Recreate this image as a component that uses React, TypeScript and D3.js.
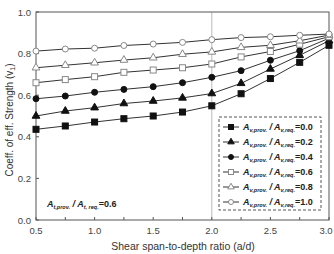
import React from 'react';
import * as d3 from 'd3';

const ratios = [0.5, 0.75, 1.0, 1.25, 1.5, 1.75, 2.0, 2.25, 2.5, 2.75, 3.0];

const seriesLabels = ['0.0', '0.2', '0.4', '0.6', '0.8', '1.0'];

const v00 = [0.436, 0.452, 0.471, 0.487, 0.5, 0.519, 0.549, 0.607, 0.68, 0.758, 0.84];
const v02 = [0.5, 0.524, 0.54, 0.56, 0.572, 0.587, 0.608, 0.657, 0.726, 0.792, 0.862];
const v04 = [0.583, 0.596, 0.614, 0.628, 0.641, 0.66, 0.686, 0.718, 0.768, 0.814, 0.874];
const v06 = [0.66, 0.675, 0.689, 0.71, 0.721, 0.732, 0.75, 0.784, 0.81, 0.845, 0.881];
const v08 = [0.732, 0.744, 0.756, 0.769, 0.78, 0.797, 0.808, 0.83, 0.84, 0.862, 0.889];
const v10 = [0.812, 0.822, 0.826, 0.839, 0.846, 0.854, 0.867, 0.877, 0.881, 0.888, 0.894];

const series = [v00, v02, v04, v06, v08, v10];

const yTicks = [0.0, 0.2, 0.4, 0.6, 0.8, 1.0];
const xTicks = [0.5, 1.0, 1.5, 2.0, 2.5, 3.0];
const xMinor = [0.75, 1.25, 1.75, 2.25, 2.75];

// marker kind per series: shape + filled/open
const markers = [
  { shape: 'square', filled: true },
  { shape: 'triangle', filled: true },
  { shape: 'circle', filled: true },
  { shape: 'square', filled: false },
  { shape: 'triangle', filled: false },
  { shape: 'circle', filled: false },
];

const W = 334;
const H = 254;
const FONT = 'Liberation Sans, Arial, sans-serif';

function Marker({ x, y, shape, filled, r = 3 }) {
  const fill = filled ? '#111' : '#fff';
  const stroke = filled ? '#111' : '#888';
  if (shape === 'square') {
    return <rect x={x - r} y={y - r} width={2 * r} height={2 * r} fill={fill} stroke={stroke} strokeWidth={1} />;
  }
  if (shape === 'triangle') {
    const p = d3.symbol(d3.symbolTriangle, r * r * 2.9)();
    return <path d={p} transform={`translate(${x},${y})`} fill={fill} stroke={stroke} strokeWidth={1} />;
  }
  return <circle cx={x} cy={y} r={r} fill={fill} stroke={stroke} strokeWidth={1} />;
}

function Ratio({ x, y, sub1, sub2, value }) {
  return (
    <text x={x} y={y} fontFamily={FONT} fontSize={9} fontWeight="bold" fill="#222">
      <tspan fontStyle="italic">A</tspan>
      <tspan fontStyle="italic" fontSize={5.5} dy={2}>{sub1}</tspan>
      <tspan fontStyle="italic" dy={-2}> / A</tspan>
      <tspan fontStyle="italic" fontSize={5.5} dy={2}>{sub2}</tspan>
      <tspan dy={-2}>={value}</tspan>
    </text>
  );
}

export default function App() {
  const x = d3.scaleLinear().domain([0.5, 3.0]).range([36, 329]);
  const y = d3.scaleLinear().domain([0, 1]).range([220, 12]);
  const line = d3.line<number>()
    .x((d, i) => x(ratios[i]))
    .y((d) => y(d));

  const legendTop = 127;
  const legendStep = 15;

  return (
    <svg width={W} height={H} style={{ position: 'absolute', left: 0, top: 0, background: '#fff' }}>
      {/* vertical reference line at a/d = 2.0 */}
      <line x1={x(2)} x2={x(2)} y1={y(1)} y2={y(0)} stroke="#aaa" strokeWidth={0.8} />

      {/* frame */}
      <rect x={x(0.5)} y={y(1)} width={x(3) - x(0.5)} height={y(0) - y(1)} fill="none" stroke="#555" strokeWidth={1} />

      {/* ticks, pointing inward */}
      {yTicks.map((t) => (
        <g key={'y' + t}>
          <line x1={x(0.5)} x2={x(0.5) + 3} y1={y(t)} y2={y(t)} stroke="#555" />
          <text x={31} y={y(t) + 3.5} textAnchor="end" fontFamily={FONT} fontSize={9.5} fill="#444">{t.toFixed(1)}</text>
        </g>
      ))}
      {xTicks.concat(xMinor).map((t) => (
        <line key={'x' + t} x1={x(t)} x2={x(t)} y1={y(0)} y2={y(0) - 3} stroke="#555" />
      ))}
      {xTicks.map((t) => (
        <text key={'xl' + t} x={t === 3 ? x(t) - 3 : x(t)} y={234} textAnchor="middle" fontFamily={FONT} fontSize={9.5} fill="#444">{t.toFixed(1)}</text>
      ))}

      {/* axis titles */}
      <text x={183} y={250} textAnchor="middle" fontFamily={FONT} fontSize={10.5} fill="#333">Shear span-to-depth ratio (a/d)</text>
      <text transform={`translate(13,${y(0.5) + 4}) rotate(-90)`} textAnchor="middle" fontFamily={FONT} fontSize={10} fill="#333">
        Coeff. of eff. Strength (v<tspan fontSize={7} dy={2}>1</tspan><tspan dy={-2}>)</tspan>
      </text>

      {/* series */}
      {series.map((s, i) => (
        <g key={'s' + i}>
          <path d={line(s)} fill="none" stroke="#333" strokeWidth={1} />
          {s.map((v, j) => (
            <Marker key={j} x={x(ratios[j])} y={y(v)} shape={markers[i].shape} filled={markers[i].filled} />
          ))}
        </g>
      ))}

      {/* legend */}
      <rect x={219} y={117} width={102} height={93} fill="#fff" stroke="#555" strokeWidth={1} strokeDasharray="3,2" />
      {seriesLabels.map((lab, i) => {
        const ly = legendTop + i * legendStep;
        return (
          <g key={'lg' + i}>
            <line x1={223} x2={239} y1={ly} y2={ly} stroke="#333" />
            <Marker x={231} y={ly} r={2.5} shape={markers[i].shape} filled={markers[i].filled} />
            <Ratio x={243} y={ly + 3} sub1="v,prov." sub2="v,req." value={lab} />
          </g>
        );
      })}

      <Ratio x={47} y={207} sub1="t,prov." sub2="t, req." value="0.6" />
    </svg>
  );
}
